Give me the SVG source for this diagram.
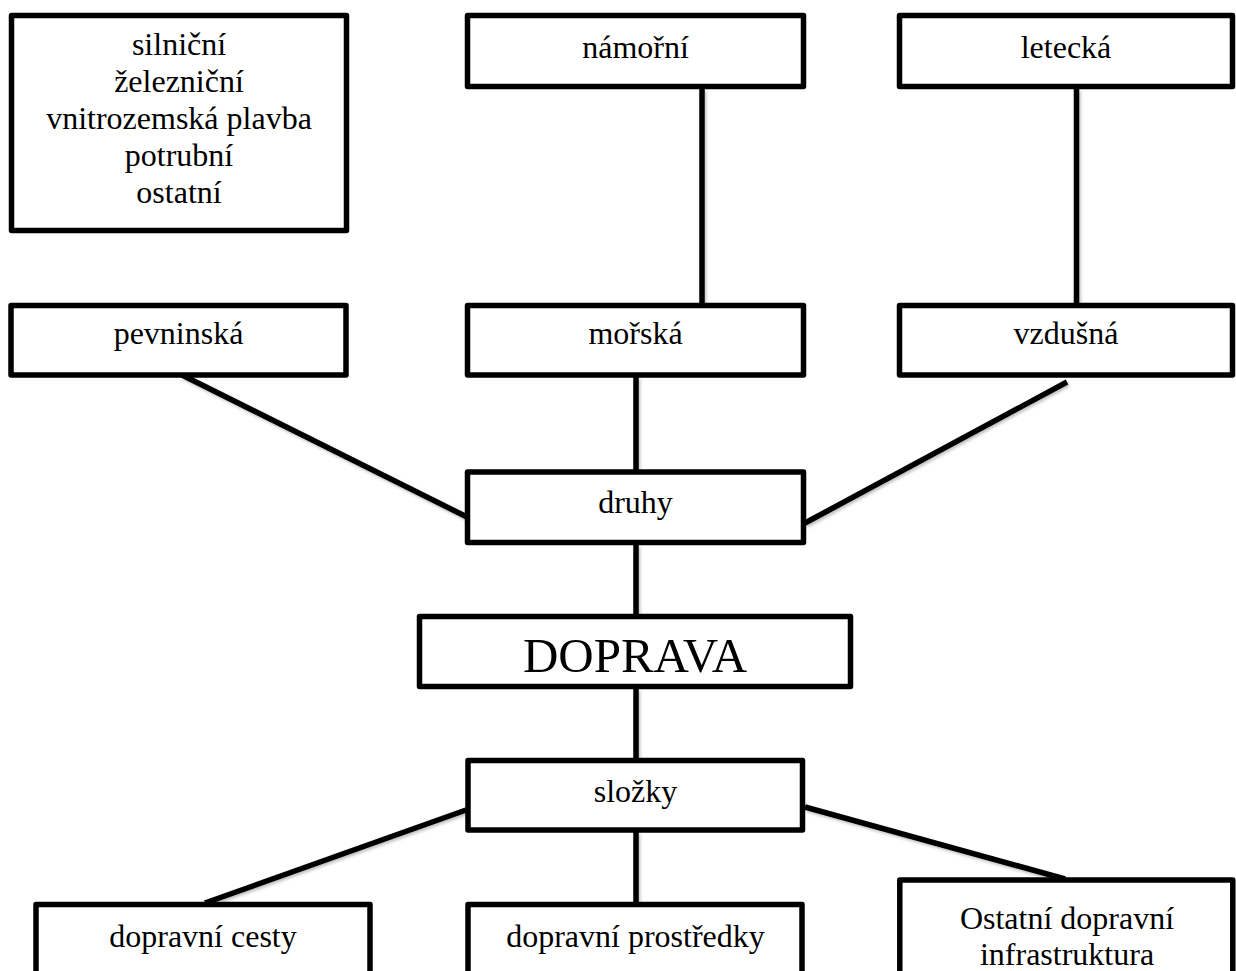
<svg xmlns="http://www.w3.org/2000/svg" width="1236" height="971" viewBox="0 0 1236 971">
<style>
.box{fill:#fff;stroke:#000;stroke-width:5.5;stroke-linejoin:round}
.t{font-family:"Liberation Serif","Times New Roman",serif;font-size:32px;fill:#000;text-anchor:middle}
.big{font-size:49px}
.c{stroke:#000;stroke-width:5.5;fill:none;stroke-linecap:butt}
</style>
<defs>
<filter id="sh" x="-10%" y="-10%" width="120%" height="120%">
<feDropShadow dx="1.5" dy="2" stdDeviation="1.5" flood-color="#000" flood-opacity="0.25"/>
</filter>
</defs>
<rect width="1236" height="971" fill="#fff"/>
<g id="connectors" filter="url(#sh)">
<line class="c" x1="702" y1="89" x2="702" y2="303"/>
<line class="c" x1="1076.5" y1="89" x2="1076.5" y2="303"/>
<line class="c" x1="182" y1="375" x2="467" y2="517"/>
<line class="c" x1="636" y1="377" x2="636" y2="470"/>
<line class="c" x1="1067" y1="382" x2="805" y2="523"/>
<line class="c" x1="636" y1="545" x2="636" y2="615"/>
<line class="c" x1="636" y1="689" x2="636" y2="759"/>
<line class="c" x1="466" y1="810" x2="205" y2="903"/>
<line class="c" x1="636" y1="832" x2="636" y2="904"/>
<line class="c" x1="805" y1="807" x2="1065" y2="879"/>
</g>
<g id="n-list">
<rect class="box" x="11.5" y="15.5" width="335" height="215"/>
<text class="t" x="179" y="55">silniční</text>
<text class="t" x="179" y="92">železniční</text>
<text class="t" x="179" y="128.5">vnitrozemská plavba</text>
<text class="t" x="179" y="166">potrubní</text>
<text class="t" x="179" y="203">ostatní</text>
</g>
<g id="n-namorni">
<rect class="box" x="467.5" y="15.5" width="336" height="71"/>
<text class="t" x="635.5" y="58">námořní</text>
</g>
<g id="n-letecka">
<rect class="box" x="899.5" y="15.5" width="333" height="71"/>
<text class="t" x="1066" y="58">letecká</text>
</g>
<g id="n-pevninska">
<rect class="box" x="11" y="305.5" width="335" height="69.5"/>
<text class="t" x="178.5" y="344">pevninská</text>
</g>
<g id="n-morska">
<rect class="box" x="467.5" y="305.5" width="336" height="69.5"/>
<text class="t" x="635.5" y="344">mořská</text>
</g>
<g id="n-vzdusna">
<rect class="box" x="899.5" y="305.5" width="333" height="69.5"/>
<text class="t" x="1066" y="344">vzdušná</text>
</g>
<g id="n-druhy">
<rect class="box" x="467.5" y="472" width="336" height="70.5"/>
<text class="t" x="635.5" y="513">druhy</text>
</g>
<g id="n-doprava">
<rect class="box" x="419.5" y="616.5" width="431" height="70"/>
<text class="t big" x="635" y="672">DOPRAVA</text>
</g>
<g id="n-slozky">
<rect class="box" x="468" y="760.5" width="334.5" height="69.5"/>
<text class="t" x="635.5" y="801.5">složky</text>
</g>
<g id="n-cesty">
<rect class="box" x="36" y="904.5" width="334" height="100"/>
<text class="t" x="203" y="947">dopravní cesty</text>
</g>
<g id="n-prostredky">
<rect class="box" x="468" y="904.5" width="334" height="100"/>
<text class="t" x="635.5" y="947">dopravní prostředky</text>
</g>
<g id="n-ostatni">
<rect class="box" x="899.8" y="880" width="333" height="120"/>
<text class="t" x="1067" y="929">Ostatní dopravní</text>
<text class="t" x="1067" y="965">infrastruktura</text>
</g>
</svg>
